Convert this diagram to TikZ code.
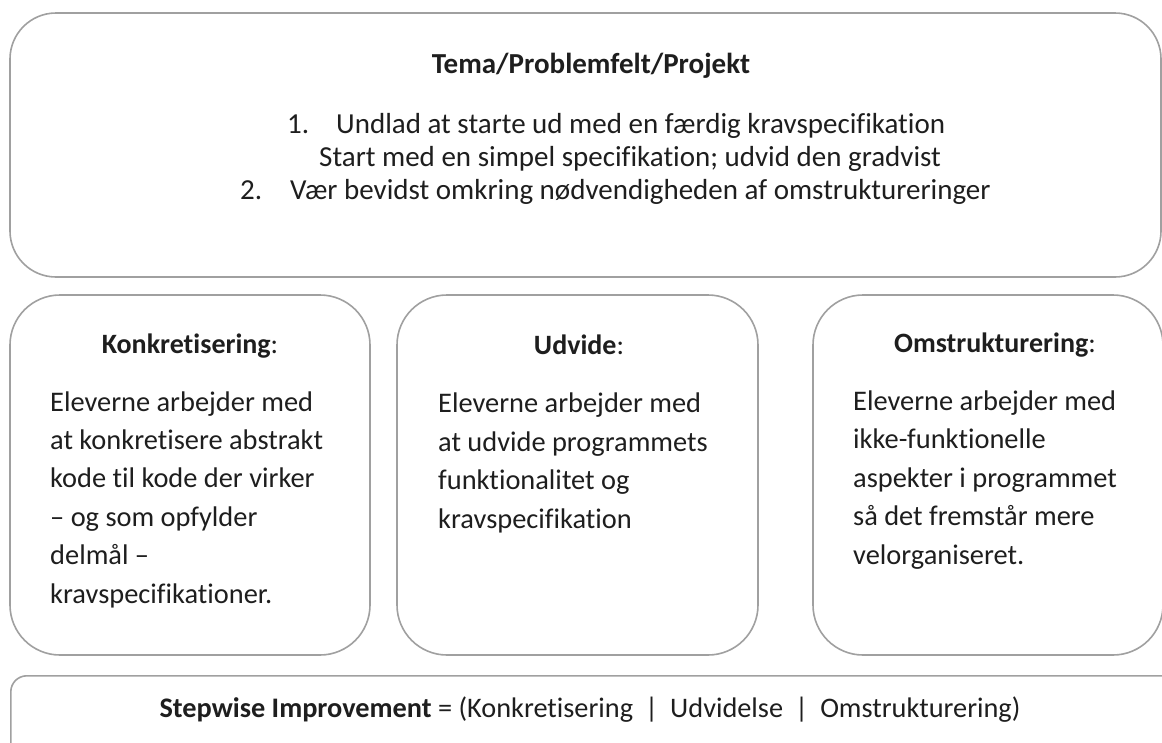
\documentclass[tikz,border=0pt]{standalone}
\usepackage{fontspec}
\setmainfont{Carlito}[Ligatures=NoCommon]
\definecolor{rim}{HTML}{A0A0A0}
\definecolor{ink}{HTML}{1E1E1E}

\begin{document}
\begin{tikzpicture}[x=1pt, y=-1pt,
    panel/.style={draw=rim, line width=1.6pt, fill=white, inner sep=0pt},
    headtxt/.style={anchor=base, inner sep=0pt, text=ink, font=\fontsize{28}{34}\selectfont\bfseries},
    toptxt/.style={anchor=base west, inner sep=0pt, text=ink, font=\fontsize{29}{34}\selectfont},
    bodytxt/.style={anchor=base west, inner sep=0pt, text=ink, align=left, font=\fontsize{28.4}{38.4}\selectfont}]

        \clip (0,0) rectangle (1162,742);

        % Boxes
        \node[panel, rounded corners=46pt, minimum width=1151pt, minimum height=264pt] (tema) at (585.5,145) {};
        \node[panel, rounded corners=50pt, minimum width=360pt, minimum height=360pt] (konk) at (190,475) {};
        \node[panel, rounded corners=50pt, minimum width=361pt, minimum height=360pt] (udv) at (577.5,475) {};
        \node[panel, rounded corners=50pt, minimum width=350pt, minimum height=360pt] (omst) at (988,475) {};
        \node[panel, rounded corners=16pt, minimum width=1200pt, minimum height=120pt, anchor=north west] (stepwise) at (10,675) {};

        % Top box text
        \node[headtxt, font=\fontsize{29}{34}\selectfont\bfseries] (temahead) at (591,73) {Tema/Problemfelt/Projekt};
        \node[toptxt] (num1) at (287,133) {1.};
        \node[toptxt] (line1) at (336,133) {Undlad at starte ud med en færdig kravspecifikation};
        \node[toptxt] (line2) at (319,166) {Start med en simpel specifikation; udvid den gradvist};
        \node[toptxt] (num2) at (240,199) {2.};
        \node[toptxt] (line3) at (290,199) {Vær bevidst omkring nødvendigheden af omstruktureringer};

        % Middle box headings
        \node[headtxt] (konkhead) at (190,353) {Konkretisering\mdseries:};
        \node[headtxt] (udvhead) at (579,354) {Udvide\mdseries:};
        \node[headtxt] (omsthead) at (995,352) {Omstrukturering\mdseries:};

        % Middle box texts (anchored on the last line)
        \node[bodytxt] (konkbody) at (50,603) {Eleverne arbejder med\\at konkretisere abstrakt\\kode til kode der virker\\– og som opfylder\\delmål –\\kravspecifikationer.};
        \node[bodytxt] (udvbody) at (438,528) {Eleverne arbejder med\\at udvide programmets\\funktionalitet og\\kravspecifikation};
        \node[bodytxt] (omstbody) at (853,564) {Eleverne arbejder med\\ikke-funktionelle\\aspekter i programmet\\så det fremstår mere\\velorganiseret.};

        % Bottom formula
        \node[toptxt, anchor=base, font=\fontsize{28.3}{34}\selectfont] (formula) at (590,717) {\textbf{Stepwise Improvement} = (Konkretisering\hspace{0.2em} | \hspace{0.2em}Udvidelse\hspace{0.2em} | \hspace{0.2em}Omstrukturering)};

    \end{tikzpicture}
\end{document}
